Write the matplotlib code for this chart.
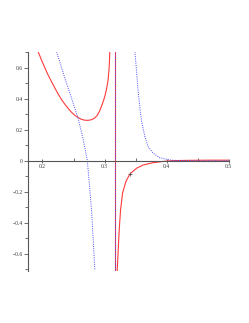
import matplotlib
matplotlib.use("Agg")
import matplotlib.pyplot as plt
from matplotlib.ticker import MultipleLocator

# Data
red_left_x = [0.193, 0.1985, 0.2037, 0.209, 0.2145, 0.22, 0.2252, 0.2305, 0.236, 0.2415, 0.2468, 0.252, 0.2574, 0.2625, 0.268, 0.2735, 0.279, 0.284, 0.2880, 0.2924, 0.2968, 0.300, 0.303, 0.3058, 0.3074, 0.3085]
red_left_y = [0.705, 0.650, 0.602, 0.555, 0.512, 0.470, 0.432, 0.397, 0.366, 0.338, 0.314, 0.295, 0.280, 0.269, 0.263, 0.262, 0.266, 0.277, 0.293, 0.325, 0.372, 0.410, 0.460, 0.525, 0.600, 0.705]

red_right_x = [0.3203, 0.322, 0.3236, 0.3258, 0.329, 0.3344, 0.3408, 0.3516, 0.3623, 0.3784, 0.397, 0.41, 0.4376, 0.47, 0.5]
red_right_y = [-0.714, -0.574, -0.445, -0.316, -0.208, -0.133, -0.084, -0.047, -0.026, -0.011, -0.002, 0.002, 0.004, 0.005, 0.005]

blue_left_x = [0.2226, 0.236, 0.2468, 0.2574, 0.2639, 0.268, 0.2723, 0.279, 0.2844]
blue_left_y = [0.705, 0.534, 0.405, 0.275, 0.168, 0.092, 0.0, -0.316, -0.705]

blue_right_x = [0.3489, 0.3516, 0.3542, 0.357, 0.3597, 0.365, 0.3703, 0.3784, 0.389, 0.405, 0.4215, 0.45, 0.5]
blue_right_y = [0.705, 0.576, 0.447, 0.34, 0.254, 0.157, 0.092, 0.05, 0.021, 0.006, 0.002, 0.001, 0.001]

asymptote_x = 0.3161
marker_x, marker_y = 0.3408, -0.084

x_ticks = [0.2, 0.3, 0.4, 0.5]
y_ticks = [-0.6, -0.4, -0.2, 0, 0.2, 0.4, 0.6]

fig = plt.figure(figsize=(2.49, 3.23), dpi=100)
ax = fig.add_axes([0.1128, 0.162, 0.8056, 0.678])
ax.set_xlim(0.1768, 0.5)
ax.set_ylim(-0.708, 0.705)

red = "#ff3a3a"
blue = "#4a4aff"
ax.plot(red_left_x, red_left_y, color=red, lw=0.8)
ax.plot(red_right_x, red_right_y, color=red, lw=0.8)
ax.plot(blue_left_x, blue_left_y, color=blue, lw=0.7, ls=(0, (1, 1.3)))
ax.plot(blue_right_x, blue_right_y, color=blue, lw=0.7, ls=(0, (1, 1.3)))
ax.axvline(asymptote_x, color=red, lw=0.8)
ax.axvline(asymptote_x, color=blue, lw=0.7, ls=(0, (1, 1.3)))
ax.plot([marker_x], [marker_y], marker="+", ms=2.5, mew=0.6, color="#555555")

for s in ["top", "right"]:
    ax.spines[s].set_visible(False)
ax.spines["bottom"].set_position(("data", 0))
ax.spines["left"].set_color("#555555")
ax.spines["bottom"].set_color("#555555")
ax.spines["left"].set_linewidth(0.8)
ax.spines["bottom"].set_linewidth(0.8)

ax.set_xticks(x_ticks)
ax.set_xticklabels([f"{v:g}" for v in x_ticks])
ax.set_yticks(y_ticks)
ax.set_yticklabels([f"{v:g}".replace("-", "\u2212") for v in y_ticks])
ax.xaxis.set_minor_locator(MultipleLocator(0.05))
ax.yaxis.set_minor_locator(MultipleLocator(0.1))
ax.tick_params(axis="both", which="both", colors="#555555", width=0.6,
               labelsize=4, labelcolor="#333333", pad=1)
ax.tick_params(axis="x", which="major", length=3, direction="inout")
ax.tick_params(axis="x", which="minor", length=2, direction="in")
ax.tick_params(axis="y", which="major", length=3, direction="out")
ax.tick_params(axis="y", which="minor", length=2, direction="out")
for lab in ax.get_xticklabels() + ax.get_yticklabels():
    lab.set_fontfamily("Liberation Serif")

fig.savefig("out.png", dpi=100)
